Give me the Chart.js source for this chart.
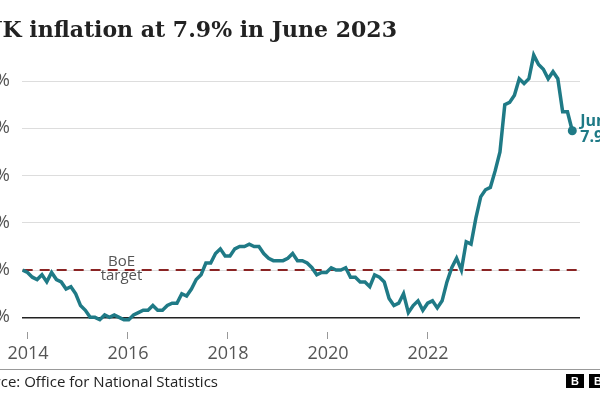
<!DOCTYPE html>
<html>
<head>
<meta charset="utf-8">
<script src="https://cdn.jsdelivr.net/npm/chart.js@4"></script>
<style>
  html, body { margin: 0; padding: 0; background: #fff; }
  body { width: 600px; height: 400px; position: relative; overflow: hidden; font-family: "Open Sans", sans-serif; }
  #c { position: absolute; left: 0; top: 0; }
  h1 { position: absolute; right: 203px; top: 14px; margin: 0; white-space: nowrap; font: bold 22px "DejaVu Serif", serif; color: #222; line-height: 30px; z-index: 2; }
  .rule { position: absolute; left: 0; top: 369px; width: 600px; height: 1px; background: #999; }
  .source { position: absolute; right: 382px; top: 370px; white-space: nowrap; font-size: 15px; color: #222; line-height: 22px; }
  .logo { position: absolute; left: 566px; top: 374px; display: flex; gap: 5px; }
  .logo span { width: 18px; height: 14px; background: #000; color: #fff; font: bold 11px "Liberation Sans", sans-serif; display: flex; align-items: center; justify-content: center; }
</style>
</head>
<body>
<h1>UK inflation at 7.9% in June 2023</h1>
<canvas id="c" width="600" height="400"></canvas>
<div class="rule"></div>
<div class="source">Source: Office for National Statistics</div>
<div class="logo"><span>B</span><span>B</span><span>C</span></div>

<script>
// CPI 12-month rate (%), starting Dec 2013, monthly
const cpi2013 = [2.0];
const cpi2014 = [1.9, 1.7, 1.6, 1.8, 1.5, 1.9, 1.6, 1.5, 1.2, 1.3, 1.0, 0.5];
const cpi2015 = [0.3, 0.0, 0.0, -0.1, 0.1, 0.0, 0.1, 0.0, -0.1, -0.1, 0.1, 0.2];
const cpi2016 = [0.3, 0.3, 0.5, 0.3, 0.3, 0.5, 0.6, 0.6, 1.0, 0.9, 1.2, 1.6];
const cpi2017 = [1.8, 2.3, 2.3, 2.7, 2.9, 2.6, 2.6, 2.9, 3.0, 3.0, 3.1, 3.0];
const cpi2018 = [3.0, 2.7, 2.5, 2.4, 2.4, 2.4, 2.5, 2.7, 2.4, 2.4, 2.3, 2.1];
const cpi2019 = [1.8, 1.9, 1.9, 2.1, 2.0, 2.0, 2.1, 1.7, 1.7, 1.5, 1.5, 1.3];
const cpi2020 = [1.8, 1.7, 1.5, 0.8, 0.5, 0.6, 1.0, 0.2, 0.5, 0.7, 0.3, 0.6];
const cpi2021 = [0.7, 0.4, 0.7, 1.5, 2.1, 2.5, 2.0, 3.2, 3.1, 4.2, 5.1, 5.4];
const cpi2022 = [5.5, 6.2, 7.0, 9.0, 9.1, 9.4, 10.1, 9.9, 10.1, 11.1, 10.7, 10.5];
const cpi2023 = [10.1, 10.4, 10.1, 8.7, 8.7, 7.9];

const cpi = [].concat(cpi2013, cpi2014, cpi2015, cpi2016, cpi2017, cpi2018,
  cpi2019, cpi2020, cpi2021, cpi2022, cpi2023);

const yearTicks = [2014, 2016, 2018, 2020, 2022];
const yTicks = [0, 2, 4, 6, 8, 10];
const boeTarget = 2;
const endLabel = ["June", "7.9%"];

const teal = "#1f7a86";
const last = cpi.length - 1;
const xMax = 115.6;

// y labels drawn by hand so they can sit partly off the left edge
const yLabels = {
  id: "yLabels",
  afterDraw(chart) {
    const { ctx, chartArea, scales } = chart;
    ctx.save();
    ctx.font = '18px "Open Sans"';
    ctx.fillStyle = "#555";
    ctx.textAlign = "right";
    ctx.textBaseline = "middle";
    yTicks.forEach(v => {
      ctx.fillText(v + "%", chartArea.left - 12, scales.y.getPixelForValue(v));
    });
    ctx.restore();
  }
};

const notes = {
  id: "notes",
  afterDraw(chart) {
    const { ctx, scales } = chart;
    ctx.save();
    // BoE target label
    const bx = scales.x.getPixelForValue(20.5);
    const by = scales.y.getPixelForValue(boeTarget);
    ctx.font = '15px "Open Sans"';
    ctx.fillStyle = "#555";
    ctx.textAlign = "center";
    ctx.textBaseline = "middle";
    ctx.fillText("BoE", bx, by - 8);
    ctx.fillText("target", bx, by + 6);
    // end label
    const pt = chart.getDatasetMeta(0).data[last];
    ctx.font = 'bold 16px "Open Sans"';
    ctx.fillStyle = teal;
    ctx.textAlign = "left";
    ctx.fillText(endLabel[0], pt.x + 8, pt.y - 9);
    ctx.fillText(endLabel[1], pt.x + 8, pt.y + 7);
    ctx.restore();
  }
};

new Chart(document.getElementById("c"), {
  type: "line",
  data: {
    datasets: [{
      label: "CPI",
      data: cpi.map((v, i) => ({ x: i, y: v })),
      borderColor: teal,
      backgroundColor: teal,
      borderWidth: 3.5,
      tension: 0,
      pointRadius: ctx => ctx.dataIndex === last ? 4.5 : 0,
      pointBorderWidth: 0,
      xAxisID: "x"
    }, {
      label: "BoE target",
      data: [{ x: 0, y: boeTarget }, { x: xMax, y: boeTarget }],
      borderColor: "#8a2424",
      borderWidth: 2,
      borderDash: [10, 7],
      pointRadius: 0,
      xAxisID: "x"
    }]
  },
  options: {
    responsive: false,
    animation: false,
    layout: { padding: { left: 22, right: 20, top: 40, bottom: 0 } },
    plugins: { legend: { display: false }, tooltip: { enabled: false } },
    scales: {
      x: { type: "linear", min: -0.14, max: xMax, display: false },
      x2: {
        type: "linear",
        position: "bottom",
        min: 2013.88,
        max: 2025.04,
        afterBuildTicks: s => { s.ticks = yearTicks.map(v => ({ value: v })); },
        afterFit: s => { s.height = 68; },
        ticks: {
          callback: v => String(v),
          font: { family: "Open Sans", size: 18 },
          color: "#555",
          padding: 4,
          maxRotation: 0,
          autoSkip: false
        },
        grid: { drawOnChartArea: false, tickLength: 7, color: "#999" },
        border: { display: false }
      },
      y: {
        min: -0.62,
        max: 11.74,
        afterBuildTicks: s => { s.ticks = yTicks.map(v => ({ value: v })); },
        afterFit: s => { s.width = 0; },
        ticks: { display: false },
        grid: {
          color: c => c.tick.value === 0 ? "#222" : "#ddd",
          lineWidth: c => c.tick.value === 0 ? 1.5 : 1,
          drawTicks: false
        },
        border: { display: false }
      }
    }
  },
  plugins: [yLabels, notes]
});
</script>
</body>
</html>
